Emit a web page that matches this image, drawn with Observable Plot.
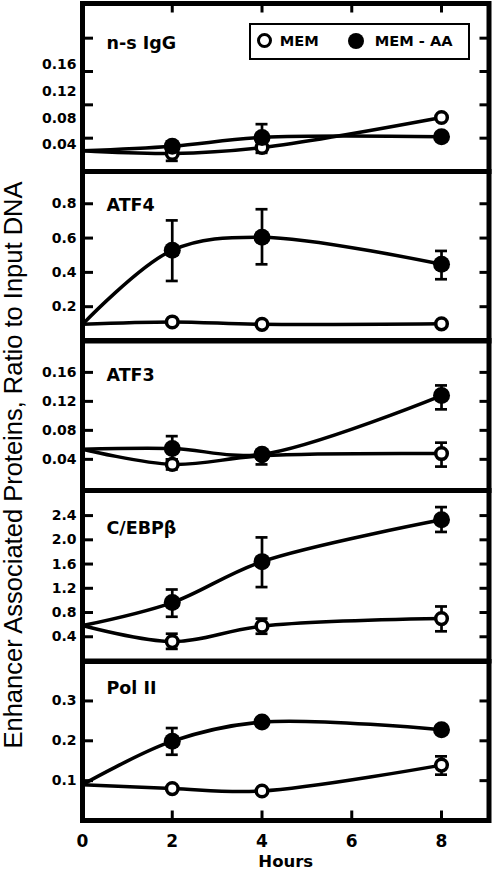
<!DOCTYPE html>
<html>
<head>
<meta charset="utf-8">
<script src="https://cdn.jsdelivr.net/npm/d3@7"></script>
<script src="https://cdn.jsdelivr.net/npm/@observablehq/plot@0.6"></script>
<style>
  body { margin: 0; background: #fff; }
  #chart { position: relative; width: 495px; height: 872px; overflow: hidden; background: #fff; }
  #chart svg.panel { position: absolute; left: 0; }
  #ytitle { position: absolute; width: 700px; text-align: center; white-space: nowrap;
    font-family: "Liberation Sans", Arial, sans-serif; font-size: 25.5px; line-height: 22px;
    transform: rotate(-90deg); color: #000; }
  #legend { position: absolute; box-sizing: border-box; background: #fff; border: 2.8px solid #000;
    font-family: "DejaVu Sans", sans-serif; font-weight: bold; font-size: 14.6px; line-height: 14.6px; }
  #legend .sym { position: absolute; box-sizing: border-box; border-radius: 50%; }
  #legend .lab { position: absolute; white-space: nowrap; }
</style>
</head>
<body>
<div id="chart"></div>
<script>
// ---------- data ----------
const hours = [0, 2, 4, 8];
const xTickValues = [0, 2, 4, 6, 8];
const xMarkTicks = [2, 4, 6, 8];
const panelNames = ["n-s IgG", "ATF4", "ATF3", "C/EBPβ", "Pol II"];
const seriesNames = ["MEM", "MEM - AA"];

// n-s IgG
const iggMem = [0.031, 0.027, 0.036, 0.081];
const iggMemErr = [null, null, [0.028, 0.044], null];
const iggAA = [0.031, 0.038, 0.051, 0.052];
const iggAAErr = [null, [0.016, 0.045], [0.045, 0.071], null];

// ATF4
const atf4Mem = [0.097, 0.111, 0.097, 0.100];
const atf4MemErr = [null, null, null, null];
const atf4AA = [0.097, 0.529, 0.605, 0.447];
const atf4AAErr = [null, [0.35, 0.703], [0.447, 0.768], [0.36, 0.525]];

// ATF3
const atf3Mem = [0.054, 0.033, 0.045, 0.048];
const atf3MemErr = [null, [0.026, 0.04], [0.033, 0.05], [0.030, 0.063]];
const atf3AA = [0.054, 0.055, 0.047, 0.128];
const atf3AAErr = [null, [0.04, 0.072], null, [0.109, 0.142]];

// C/EBPβ
const cebpMem = [0.585, 0.32, 0.575, 0.70];
const cebpMemErr = [null, [0.2, 0.45], [0.45, 0.70], [0.49, 0.90]];
const cebpAA = [0.585, 0.965, 1.64, 2.33];
const cebpAAErr = [null, [0.73, 1.18], [1.22, 2.04], [2.13, 2.54]];

// Pol II
const pol2Mem = [0.09, 0.08, 0.074, 0.139];
const pol2MemErr = [null, null, null, [0.115, 0.161]];
const pol2AA = [0.09, 0.199, 0.247, 0.228];
const pol2AAErr = [null, [0.165, 0.232], null, null];

// y axes
const yLabelTicks = [
  [0.04, 0.08, 0.12, 0.16],
  [0.2, 0.4, 0.6, 0.8],
  [0.04, 0.08, 0.12, 0.16],
  [0.4, 0.8, 1.2, 1.6, 2.0, 2.4],
  [0.1, 0.2, 0.3]
];
const yMarkTicks = [
  [0.05, 0.10, 0.15, 0.20],
  [0.2, 0.4, 0.6, 0.8],
  [0.04, 0.08, 0.12, 0.16],
  [0.4, 0.8, 1.2, 1.6, 2.0, 2.4],
  [0.1, 0.2, 0.3]
];
const yDomains = [[0, 0.252], [0, 0.988], [-0.003, 0.204], [0, 2.814], [0, 0.399]];
const yFormats = [".2f", ".1f", ".2f", ".1f", ".1f"];
const xDomain = [0, 9.058];
const yTitle = "Enhancer Associated Proteins, Ratio to Input DNA";
const xTitle = "Hours";

const memValues = [iggMem, atf4Mem, atf3Mem, cebpMem, pol2Mem];
const memErrors = [iggMemErr, atf4MemErr, atf3MemErr, cebpMemErr, pol2MemErr];
const aaValues = [iggAA, atf4AA, atf3AA, cebpAA, pol2AA];
const aaErrors = [iggAAErr, atf4AAErr, atf3AAErr, cebpAAErr, pol2AAErr];

// ---------- layout ----------
const W = 495, H = 872;
const frameLeft = 82, frameRight = 488.5;
const panelTop = [2.5, 170.5, 340, 490, 660.5];
const panelBottom = [170.5, 340, 490, 660.5, 819.5];
const labelCenter = [41.7, 204, 374, 526.7, 686.7];
const pad = 10;

const chart = document.getElementById("chart");
const pxX = (frameRight - frameLeft) / (xDomain[1] - xDomain[0]);

panelNames.forEach((name, p) => {
  const rows = [];
  const errs = [];
  hours.forEach((h, i) => {
    rows.push({hour: h, value: memValues[p][i], series: seriesNames[0]});
    rows.push({hour: h, value: aaValues[p][i], series: seriesNames[1]});
    if (memErrors[p][i]) errs.push({hour: h, lo: memErrors[p][i][0], hi: memErrors[p][i][1]});
    if (aaErrors[p][i]) errs.push({hour: h, lo: aaErrors[p][i][0], hi: aaErrors[p][i][1]});
  });
  const dom = yDomains[p];
  const top = panelTop[p], bottom = panelBottom[p];
  const pxY = (bottom - top) / (dom[1] - dom[0]);
  const isLast = p === panelNames.length - 1;
  const svgTop = top - pad;
  const height = isLast ? H - svgTop : (bottom - top) + 2 * pad;
  const marginBottom = isLast ? H - bottom : pad;
  const capHalf = 6 / pxX;

  const marks = [
    Plot.line(rows, {x: "hour", y: "value", z: "series", curve: "catmull-rom", stroke: "black", strokeWidth: 3.5}),
    Plot.ruleX(errs, {x: "hour", y1: "lo", y2: "hi", stroke: "black", strokeWidth: 2.7}),
    Plot.ruleY(errs, {y: "lo", x1: d => d.hour - capHalf, x2: d => d.hour + capHalf, stroke: "black", strokeWidth: 2.7}),
    Plot.ruleY(errs, {y: "hi", x1: d => d.hour - capHalf, x2: d => d.hour + capHalf, stroke: "black", strokeWidth: 2.7}),
    Plot.dot(rows.filter(d => d.series === seriesNames[0] && d.hour > 0), {x: "hour", y: "value", r: 5.8, fill: "white", stroke: "black", strokeWidth: 3.5}),
    Plot.dot(rows.filter(d => d.series === seriesNames[1] && d.hour > 0), {x: "hour", y: "value", r: 8.5, fill: "black", stroke: "none"}),
    Plot.ruleY(yMarkTicks[p], {x1: xDomain[0], x2: xDomain[0] + 11 / pxX, stroke: "black", strokeWidth: 3}),
    Plot.ruleY(yMarkTicks[p], {x1: xDomain[1] - 9 / pxX, x2: xDomain[1], stroke: "black", strokeWidth: 3}),
    Plot.axisY({ticks: yLabelTicks[p], tickSize: 0, tickPadding: 6, tickFormat: d3.format(yFormats[p]), label: null, fontSize: 14}),
    Plot.text([name], {frameAnchor: "top-left", textAnchor: "start", lineAnchor: "middle",
      dx: 24, dy: labelCenter[p] - top + 0.8, fontSize: 17.5, fontWeight: "bold"})
  ];
  if (p === 0) {
    marks.push(Plot.ruleX(xMarkTicks, {y1: dom[1], y2: dom[1] - 9.5 / pxY, stroke: "black", strokeWidth: 3}));
  }
  if (isLast) {
    marks.push(Plot.ruleX(xMarkTicks, {y1: dom[0], y2: dom[0] + 9.5 / pxY, stroke: "black", strokeWidth: 3}));
    marks.push(Plot.axisX({ticks: xTickValues, tickSize: 0, tickPadding: 14, tickFormat: d3.format("d"), label: null, fontSize: 17}));
    marks.push(Plot.text([xTitle], {frameAnchor: "bottom", lineAnchor: "middle", dy: 41.5, fontSize: 16.5, fontWeight: "bold"}));
  }
  marks.push(Plot.frame({stroke: "black", strokeWidth: 5}));

  const plot = Plot.plot({
    width: W,
    height: height,
    marginLeft: frameLeft,
    marginRight: W - frameRight,
    marginTop: pad,
    marginBottom: marginBottom,
    x: {domain: xDomain, axis: isLast ? undefined : null},
    y: {domain: dom},
    style: "font-family: 'DejaVu Sans', sans-serif; font-weight: bold; font-size: 14px; background: transparent; overflow: visible; color: black;",
    marks
  });
  plot.classList.add("panel");
  plot.style.top = svgTop + "px";
  plot.style.position = "absolute";
  plot.style.left = "0px";
  chart.appendChild(plot);
});

// y-axis title
const yt = document.createElement("div");
yt.id = "ytitle";
yt.textContent = yTitle;
yt.style.left = (13 - 350) + "px";
yt.style.top = (465 - 11) + "px";
chart.appendChild(yt);

// legend (inside first panel)
const lg = document.createElement("div");
lg.id = "legend";
lg.style.left = "249.3px";
lg.style.top = "23.3px";
lg.style.width = "220.7px";
lg.style.height = "36.7px";
const boxL = 249.3 + 2.8, boxT = 23.3 + 2.8;
function addSym(cx, cy, d, open) {
  const s = document.createElement("span");
  s.className = "sym";
  s.style.width = d + "px";
  s.style.height = d + "px";
  s.style.left = (cx - d / 2 - boxL) + "px";
  s.style.top = (cy - d / 2 - boxT) + "px";
  if (open) { s.style.border = "3.5px solid #000"; s.style.background = "#fff"; }
  else { s.style.background = "#000"; }
  lg.appendChild(s);
}
function addLab(x, capCy, text) {
  const t = document.createElement("span");
  t.className = "lab";
  t.textContent = text;
  t.style.left = (x - boxL) + "px";
  t.style.top = (capCy - 0.48 * 14.6 - boxT) + "px";
  lg.appendChild(t);
}
addSym(265, 41.7, 15, true);
addLab(280.5, 42, seriesNames[0]);
addSym(357, 41.7, 16, false);
addLab(375.5, 42, seriesNames[1]);
chart.appendChild(lg);
</script>
</body>
</html>
